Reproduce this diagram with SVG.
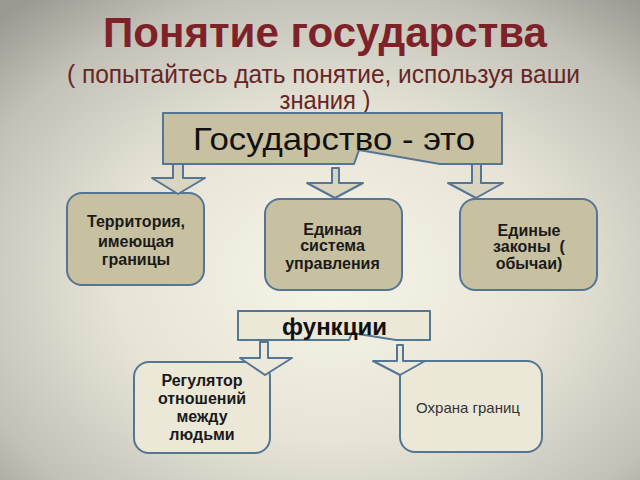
<svg xmlns="http://www.w3.org/2000/svg" width="640" height="480" viewBox="0 0 640 480">
<defs>
<radialGradient id="bg" cx="52%" cy="58%" r="75%">
<stop offset="0" stop-color="#f6f4e8"/>
<stop offset="0.45" stop-color="#e7e4d7"/>
<stop offset="0.8" stop-color="#c3c0b7"/>
<stop offset="1" stop-color="#9c9992"/>
</radialGradient>
<style>
.sh{stroke:#557594;stroke-width:2;stroke-linejoin:round}
.kh{fill:#c8c1a1}
.lt{fill:#ebe8d8}
.ar1{fill:#d9d5c0}
.ar2{fill:#ece9db}
.t{font-family:"Liberation Sans",Arial,sans-serif;fill:#1a1a1a;text-anchor:middle}
.b{font-weight:bold;font-size:16px}
</style>
</defs>
<rect width="640" height="480" fill="url(#bg)"/>
<g id="title">
<text x="103" y="47" textLength="444" lengthAdjust="spacingAndGlyphs" style="font-family:'Liberation Sans',Arial,sans-serif;font-weight:bold;font-size:42px;fill:#7d2228">Понятие государства</text>
<text x="67" y="83" textLength="513" lengthAdjust="spacingAndGlyphs" style="font-family:'Liberation Sans',Arial,sans-serif;font-size:25px;fill:#662626">( попытайтесь дать понятие, используя ваши</text>
<text x="325" y="109" textLength="91" lengthAdjust="spacingAndGlyphs" style="font-family:'Liberation Sans',Arial,sans-serif;font-size:25px;fill:#662626;text-anchor:middle">знания )</text>
</g>
<g id="node-state">
<polygon class="sh kh" points="163,113 502,113 502,164 440,164 359,150 354,164 163,164"/>
<text x="193" y="150" textLength="282" lengthAdjust="spacingAndGlyphs" style="font-family:'Liberation Sans',Arial,sans-serif;font-size:32px;fill:#111">Государство - это</text>
</g>
<g id="node-territory">
<rect class="sh kh" x="67" y="193" width="137" height="92" rx="15"/>
<text class="t b" x="136" y="227">Территория,</text>
<text class="t b" x="136" y="246.5">имеющая</text>
<text class="t b" x="136" y="265">границы</text>
</g>
<g id="node-government">
<rect class="sh kh" x="265" y="199" width="137" height="91" rx="15"/>
<text class="t b" x="332.5" y="235">Единая</text>
<text class="t b" x="332.5" y="251">система</text>
<text class="t b" x="332.5" y="268.5">управления</text>
</g>
<g id="node-laws">
<rect class="sh kh" x="460" y="199" width="137" height="91" rx="15"/>
<text class="t b" x="529" y="236">Единые</text>
<text class="t b" x="529" y="252" xml:space="preserve">законы  (</text>
<text class="t b" x="529" y="268.5">обычаи)</text>
</g>
<g id="node-functions">
<polygon class="sh lt" points="238,311 430,311 430,340 396,340 352,333 349,340 238,340"/>
<text x="334.5" y="335" style="font-family:'Liberation Sans',Arial,sans-serif;font-weight:bold;font-size:24px;fill:#111;text-anchor:middle">функции</text>
</g>
<g id="node-regulator">
<rect class="sh lt" x="134" y="362" width="136" height="91" rx="15"/>
<text class="t b" x="202" y="386">Регулятор</text>
<text class="t b" x="202" y="404">отношений</text>
<text class="t b" x="202" y="422">между</text>
<text class="t b" x="202" y="440">людьми</text>
</g>
<g id="node-borders">
<rect class="sh lt" x="400" y="361" width="142" height="91" rx="15"/>
<text x="468" y="413" style="font-family:'Liberation Sans',Arial,sans-serif;font-size:15px;fill:#333;text-anchor:middle">Охрана границ</text>
</g>
<g id="connectors">
<polygon class="sh ar1" points="173,164 183,164 183,178 205,178 178,194 152,178 173,178"/>
<polygon class="sh ar1" points="332,168 339,168 339,183 363,183 335,198 307,183 332,183"/>
<polygon class="sh ar1" points="472,164 481,164 481,183 503,183 476,198 448,183 472,183"/>
<polygon class="sh ar2" points="260,342 268,342 268,358 292,358 265,375 240,358 260,358"/>
<polygon class="sh ar2" points="397,345 403,345 403,361 425,361 400,375 373,361 397,361"/>
</g>
</svg>
